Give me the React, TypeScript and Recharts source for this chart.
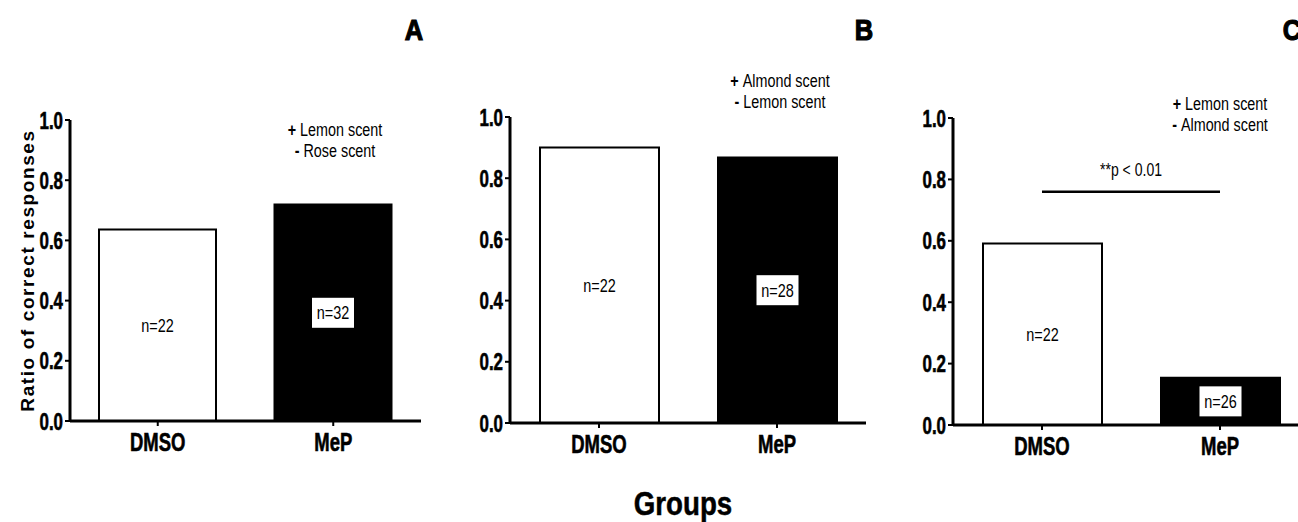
import { BarChart, Bar, XAxis, YAxis, Cell, LabelList, ReferenceLine } from 'recharts'

const groups = ['DMSO', 'MeP']
const ratioA = [0.636, 0.719]
const ratioB = [0.9, 0.868]
const ratioC = [0.591, 0.154]
const countA = [22, 32]
const countB = [22, 28]
const countC = [22, 26]
const yTicks = [0, 0.2, 0.4, 0.6, 0.8, 1.0]
const letters = ['A', 'B', 'C']
const scentsA = ['Lemon scent', 'Rose scent']
const scentsB = ['Almond scent', 'Lemon scent']
const scentsC = ['Lemon scent', 'Almond scent']
const sigLabel = '**p < 0.01'
const sigLevel = 0.76

// no narrow font installed, so Liberation Sans is squeezed horizontally
const font = "'Liberation Sans', Arial, sans-serif"

const NText = ({ x, y, sx, children, ...rest }: any) => (
  <text transform={`translate(${x},${y}) scale(${sx},1)`} x={0} y={0} fontFamily={font} fill="#000" {...rest}>
    {children}
  </text>
)

const rows = (vals: number[], ns: number[]) =>
  groups.map((g, i) => ({ group: g, ratio: vals[i], n: ns[i] }))

const XTick = ({ x, y, payload }: any) => (
  <NText x={x} y={y + 18} sx={0.74} textAnchor="middle" fontSize={25} fontWeight={700} stroke="#000" strokeWidth={0.6}>
    {payload.value}
  </NText>
)

const YTick = ({ x, y, payload }: any) => (
  <NText x={x} y={y + 8.5} sx={0.72} textAnchor="end" fontSize={23.5} fontWeight={700} stroke="#000" strokeWidth={0.6}>
    {Number(payload.value).toFixed(1)}
  </NText>
)

const NLabel = (props: any) => {
  const { x, y, width, height, value, index } = props
  const cx = x + width / 2
  const cy = y + height / 2
  const txt = (
    <NText x={cx} y={cy + 6.5} sx={0.78} textAnchor="middle" fontSize={18.5}>
      n={value}
    </NText>
  )
  if (index === 1) {
    return (
      <g>
        <rect x={cx - 21} y={cy - 15} width={42} height={30} fill="#fff" />
        {txt}
      </g>
    )
  }
  return txt
}

const SigText = ({ viewBox }: any) => (
  <NText x={viewBox.x + viewBox.width / 2} y={viewBox.y - 16} sx={0.78} textAnchor="middle" fontSize={18}>
    {sigLabel}
  </NText>
)

type PanelProps = {
  data: { group: string; ratio: number; n: number }[]
  left: number
  width: number
  top: number
  bottom: number
  barSize: number
  yLabel?: boolean
  sig?: boolean
}

function Panel({ data, left, width, top, bottom, barSize, yLabel, sig }: PanelProps) {
  return (
    <div style={{ position: 'absolute', left, top: 0 }}>
      <BarChart width={width} height={470} data={data} margin={{ top, right: 0, bottom, left: 0 }}>
        <XAxis
          dataKey="group"
          height={40}
          tickSize={5}
          tickMargin={7}
          axisLine={{ stroke: '#000', strokeWidth: 3 }}
          tickLine={{ stroke: '#000', strokeWidth: 2 }}
          tick={<XTick />}
        />
        <YAxis
          width={70}
          domain={[0, 1]}
          ticks={yTicks}
          interval={0}
          tickSize={5}
          axisLine={{ stroke: '#000', strokeWidth: 3 }}
          tickLine={{ stroke: '#000', strokeWidth: 2 }}
          tick={<YTick />}
          label={
            yLabel
              ? {
                  value: 'Ratio of correct responses',
                  angle: -90,
                  position: 'insideLeft',
                  dx: 22,
                  style: { textAnchor: 'middle', fontFamily: font, fontWeight: 700, fontSize: 19, letterSpacing: 1.6, fill: '#000' },
                }
              : undefined
          }
        />
        {sig && (
          <ReferenceLine
            segment={[{ x: groups[0], y: sigLevel }, { x: groups[1], y: sigLevel }]}
            stroke="#000"
            strokeWidth={2.5}
            label={<SigText />}
          />
        )}
        <Bar dataKey="ratio" barSize={barSize} isAnimationActive={false}>
          {data.map((d, i) => (
            <Cell key={d.group} fill={i === 0 ? '#fff' : '#000'} stroke="#000" strokeWidth={2} />
          ))}
          <LabelList dataKey="n" content={NLabel} />
        </Bar>
      </BarChart>
    </div>
  )
}

const Scent = ({ x, y, lines }: { x: number; y: number; lines: string[] }) => (
  <g transform={`translate(${x},${y}) scale(0.82,1)`}>
    <text textAnchor="middle" fontFamily={font} fontSize={17.5} fill="#000">
      <tspan x={0} y={0}>
        <tspan fontWeight={700}>+ </tspan>
        {lines[0]}
      </tspan>
      <tspan x={0} y={21}>
        <tspan fontWeight={700}>- </tspan>
        {lines[1]}
      </tspan>
    </text>
  </g>
)

export default function App() {
  return (
    <div style={{ position: 'absolute', left: 0, top: 0, width: 1298, height: 522, overflow: 'hidden', background: '#fff' }}>
      <Panel data={rows(ratioA, countA)} left={0} width={421} top={120} bottom={9} barSize={117} yLabel />
      <Panel data={rows(ratioB, countB)} left={440} width={426} top={117} bottom={7} barSize={119} />
      <Panel data={rows(ratioC, countC)} left={883} width={426} top={118} bottom={5} barSize={119} sig />
      <svg width={1298} height={522} style={{ position: 'absolute', left: 0, top: 0, pointerEvents: 'none' }}>
        {[414, 864, 1292].map((x, i) => (
          <NText key={letters[i]} x={x} y={40} sx={0.85} textAnchor="middle" fontWeight={700} fontSize={30} stroke="#000" strokeWidth={1.2}>
            {letters[i]}
          </NText>
        ))}
        <Scent x={335} y={136} lines={scentsA} />
        <Scent x={780} y={87} lines={scentsB} />
        <Scent x={1220} y={110} lines={scentsC} />
        <NText x={683} y={515} sx={0.84} textAnchor="middle" fontWeight={700} fontSize={33} stroke="#000" strokeWidth={0.5}>
          Groups
        </NText>
      </svg>
    </div>
  )
}
